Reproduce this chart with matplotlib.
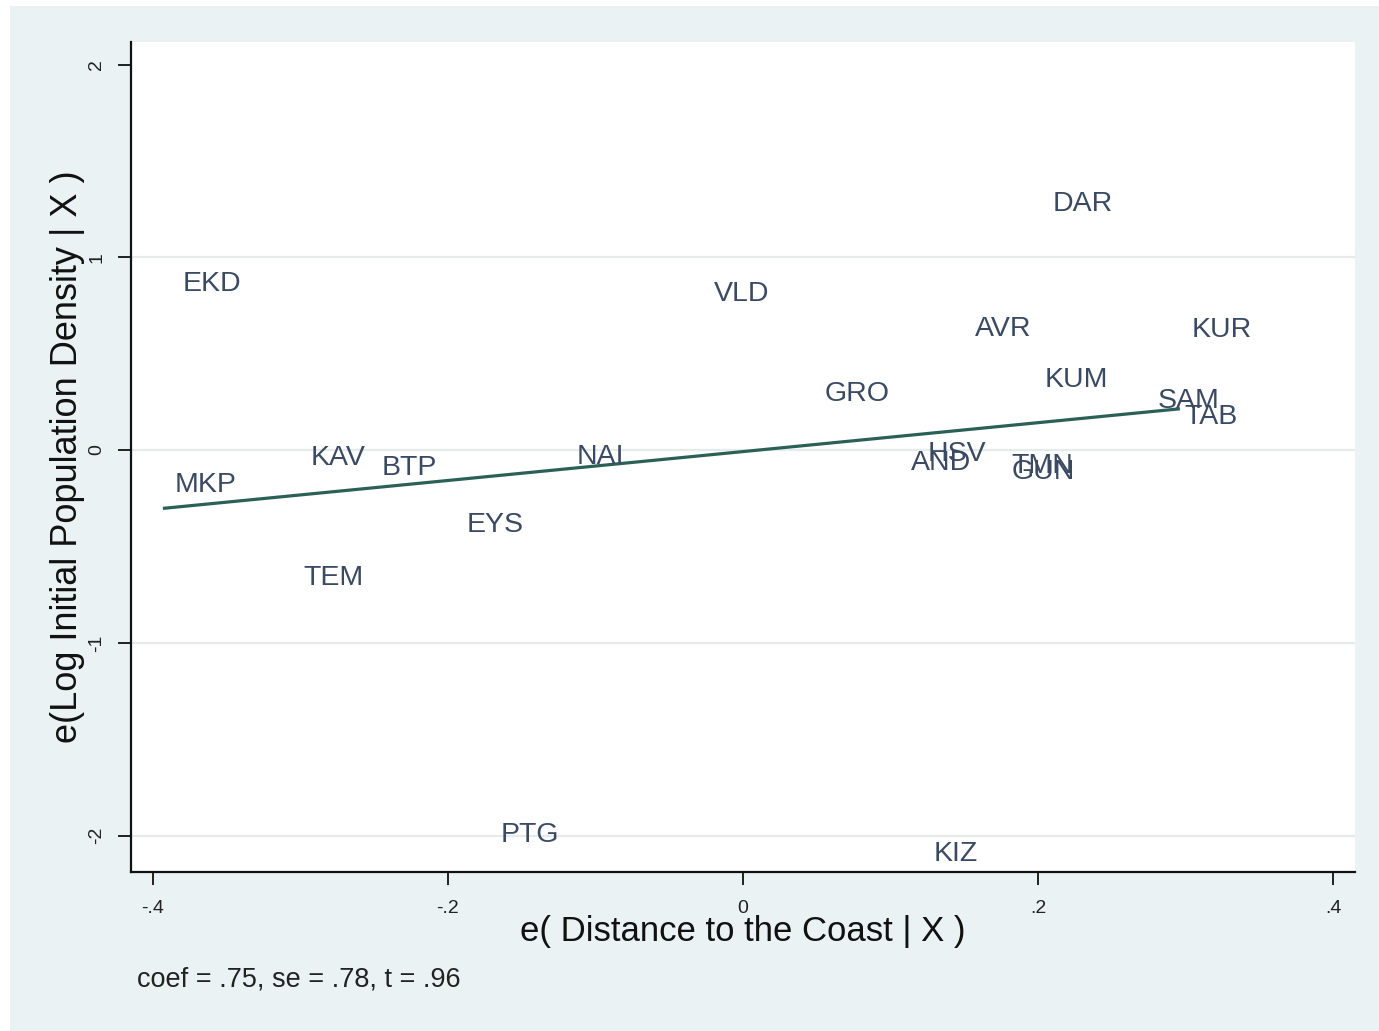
import numpy as np
import matplotlib
matplotlib.use("Agg")
import matplotlib.pyplot as plt
from matplotlib.patches import Rectangle

# Added-variable plot: residualised log initial population density vs
# residualised distance to the coast, one label per observation.
labels = ["MKP", "EKD", "TEM", "KAV", "BTP", "EYS", "PTG", "NAI", "VLD", "GRO",
          "AND", "HSV", "KIZ", "AVR", "TMN", "GUN", "KUM", "DAR", "SAM", "TAB", "KUR"]
e_dist = [-0.393, -0.388, -0.306, -0.301, -0.253, -0.195, -0.172, -0.121, -0.028, 0.047,
          0.106, 0.117, 0.121, 0.149, 0.174, 0.174, 0.196, 0.202, 0.273, 0.291, 0.296]
e_dens = [-0.166, 0.879, -0.649, -0.026, -0.075, -0.374, -1.982, -0.021, 0.825, 0.306,
          -0.052, -0.005, -2.080, 0.646, -0.067, -0.099, 0.379, 1.292, 0.270, 0.187, 0.638]

coef, se, tstat = 0.75, 0.78, 0.96

x_ticks = [-0.4, -0.2, 0.0, 0.2, 0.4]
x_ticklabels = ["-.4", "-.2", "0", ".2", ".4"]
y_ticks = [-2, -1, 0, 1, 2]
y_ticklabels = ["-2", "-1", "0", "1", "2"]
y_grid = [-2, -1, 0, 1]

plt.rcParams["font.family"] = ["Liberation Sans", "DejaVu Sans"]

W, H = 1379, 1031
fig = plt.figure(figsize=(W / 100, H / 100), dpi=100)
fig.patch.set_facecolor("white")
fig.patches.append(Rectangle((10 / W, 0), 1 - 10 / W, (H - 6) / H,
                             transform=fig.transFigure, facecolor="#EAF2F3",
                             edgecolor="none", zorder=-5))

ax_l, ax_r, ax_t, ax_b = 131, 1355, 42, 872
ax = fig.add_axes([ax_l / W, 1 - ax_b / H, (ax_r - ax_l) / W, (ax_b - ax_t) / H])
ax.set_facecolor("white")

ax.set_xlim(-0.4146, 0.4146)
ax.set_ylim(-2.189, 2.117)

for g in y_grid:
    ax.axhline(g, color="#E4EBEB", lw=1.6, zorder=1)

# fitted line with the reported slope through the point of means
xs = np.array(e_dist)
ys = np.array(e_dens)
x0, x1 = xs.min(), xs.max()
xm, ym = xs.mean(), ys.mean()
ax.plot([x0, x1], [ym + coef * (x0 - xm), ym + coef * (x1 - xm)],
        color="#2A6055", lw=2.3, solid_capstyle="butt", zorder=3)

fs = 20.5
for lab, xv, yv in zip(labels, e_dist, e_dens):
    ax.annotate(lab, xy=(xv, yv), xytext=(8.6, -0.716 * fs / 2),
                textcoords="offset points", ha="left", va="baseline",
                fontsize=fs, color="#3A4A62", zorder=4)

for s in ["top", "right"]:
    ax.spines[s].set_visible(False)
for s in ["left", "bottom"]:
    ax.spines[s].set_linewidth(1.6)
    ax.spines[s].set_color("#111111")

ax.set_xticks(x_ticks)
ax.set_xticklabels(x_ticklabels, fontsize=14, color="#222222")
ax.set_yticks(y_ticks)
ax.set_yticklabels(y_ticklabels, fontsize=14, color="#222222", rotation=90,
                   va="center")
ax.tick_params(axis="x", direction="out", length=9.5, width=1.3, pad=11,
               color="#111111")
ax.tick_params(axis="y", direction="out", length=9.5, width=1.3, pad=9,
               color="#111111")

ax.set_xlabel("e( Distance to the Coast | X )", fontsize=25, color="#111111",
              va="center")
ax.xaxis.set_label_coords(0.5, (ax_b - 932) / (ax_b - ax_t))
ax.set_ylabel("e(Log Initial Population Density | X )", fontsize=26,
              color="#111111", va="center")
ax.yaxis.set_label_coords((68 - ax_l) / (ax_r - ax_l), 0.5)

fig.text(137 / W, 1 - 979 / H, f"coef = {coef:.2f}, se = {se:.2f}, t = {tstat:.2f}".replace("0.", "."),
         fontsize=19.5, color="#222222", ha="left", va="center")

fig.savefig("out.png", dpi=100, facecolor=fig.get_facecolor())
